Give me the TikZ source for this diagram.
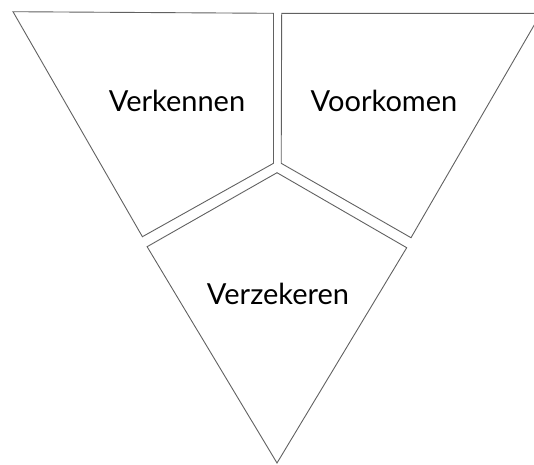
\documentclass[tikz,border=0pt]{standalone}
\usepackage{fontspec}
\setmainfont{Lato}
\usepackage{xcolor}
\usepackage{tikz}
\usetikzlibrary{positioning}

\begin{document}
\begin{tikzpicture}[
    x=1pt, y=-1pt,
    piece/.style={draw=black!62, line width=0.9pt, line join=miter},
    label/.style={anchor=base, font=\fontsize{29}{32}\selectfont, text=black}
]
    \useasboundingbox (0,0) rectangle (534,464);
    \clip (0,0) rectangle (534,464);

    % Pieces
    \draw[piece] (13,11.7) -- (273.5,13.3) -- (273.5,163.3) -- (142.4,236.7) -- cycle;
    \draw[piece] (281.7,13.3) -- (541,13.3) -- (411,237.7) -- (281.2,163.3) -- cycle;
    \draw[piece] (277,172.7) -- (406.7,247.7) -- (277,463) -- (147.1,246.7) -- cycle;

    % Labels
    \node[label] (verkennen) at (177,111) {Verkennen};
    \node[label] (voorkomen) at (384,111) {Voorkomen};
    \node[label] (verzekeren) at (278,304) {Verzekeren};
\end{tikzpicture}
\end{document}
